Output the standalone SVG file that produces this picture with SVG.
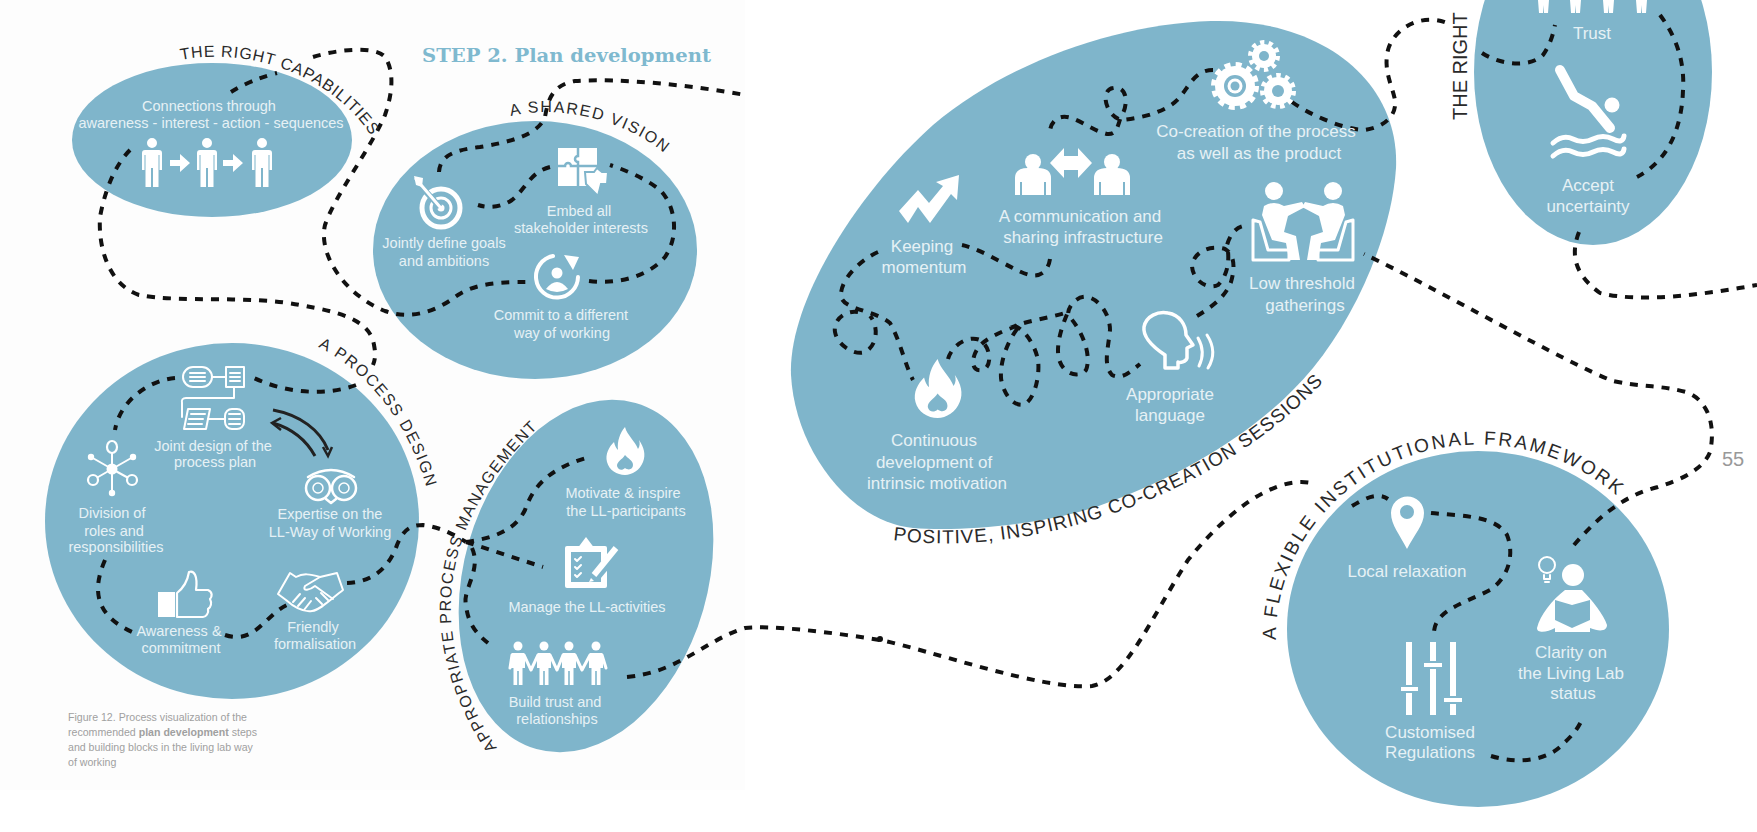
<svg xmlns="http://www.w3.org/2000/svg" xmlns:xlink="http://www.w3.org/1999/xlink" width="1757" height="832" viewBox="0 0 1757 832">
<style>
text{font-family:"Liberation Sans",Arial,sans-serif}
.b{fill:#7fb5cb}
.t{fill:#e6f1f5;font-size:14.5px;text-anchor:middle}
.m{fill:#e6f1f5;font-size:17px;text-anchor:middle}
.l{fill:#2a2a2a;font-size:16px}
.lm{fill:#2a2a2a;font-size:19px}
.c{fill:#a0a0a0;font-size:10.6px}
.w{fill:#fff}
.o{fill:none;stroke:#fff;stroke-width:3;stroke-linejoin:round;stroke-linecap:round}
.h{fill:none;stroke:#7fb5cb}
.d{fill:none;stroke:#111;stroke-width:4;stroke-dasharray:8 8}
</style>
<defs>
<path id="person" d="M0,0A5,5 0 1 1 0,10A5,5 0 1 1 0,0ZM-7,12H7Q10,12 10,15V32H7.5V17H6.5V49H1V30H-1V49H-6.5V17H-7.5V32H-10V15Q-10,12 -7,12Z"/>
<path id="arrow" d="M-10,-3H0V-9L10,0L0,9V3H-10Z"/>
<path id="flame" fill-rule="evenodd" d="M20,0C22,8 30,14 33,22C35,19 35,16 34,13C39,20 41,28 38,35C35,43 27,48 20,48C12,48 4,43 2,35C0,27 4,20 9,15C10,19 11,21 13,23C12,14 15,6 20,0ZM20,28C17,33 12,34 12,39C13,43 17,44 20,41C24,44 28,42 28,38C28,33 23,32 20,28Z"/>
<path id="bust" d="M-18,33V16Q-18,6 -5,6H5Q18,6 18,16V33H13V20H11V33H-11V20H-13V33Z"/>
<path id="fig" d="M-6,11H6L7,13V26H4.5V43H.8V29H-.8V43H-4.5V26H-7V13Z"/>
<path id="p1" d="M181,60C240,48 320,68 366,128L380,150"/>
<path id="p2" d="M511,116C560,104 630,120 672,160"/>
<path id="p3" d="M318,347C365,370 410,420 430,500"/>
<path id="p4" d="M497,748C432,650 425,530 546,420L565,403"/>
<path id="p5" d="M893,540C1040,560 1230,490 1332,372L1345,356"/>
<path id="p6" d="M1276,640A203,193 0 0 1 1640,520"/>
</defs>
<rect width="1757" height="832" fill="#fff"/>
<rect width="745" height="790" fill="#fdfdfd"/>

<g id="ellipses">
<ellipse class="b" cx="212" cy="140" rx="140" ry="77"/>
<ellipse class="b" cx="535" cy="250" rx="162" ry="129"/>
<ellipse class="b" cx="232" cy="521" rx="187" ry="178"/>
<ellipse class="b" cx="586" cy="576" rx="122" ry="180" transform="rotate(16 586 576)"/>
<path class="b" d="M1211,21C1320,18 1400,80 1396,168C1392,230 1360,310 1313,368C1270,420 1200,470 1096,507C1040,525 960,532 913,528C850,522 795,450 791,375C788,300 860,190 933,125C1010,60 1120,24 1211,21Z"/>
<ellipse class="b" cx="1478" cy="629" rx="191" ry="178"/>
<ellipse class="b" cx="1593" cy="72" rx="119" ry="173"/>
</g>

<text id="title" x="422" y="62" style="font-family:'DejaVu Serif',serif;font-weight:bold;font-size:19px;fill:#7fb9cf" textLength="289" lengthAdjust="spacingAndGlyphs">STEP 2. Plan development</text>

<g id="connectors">
<path class="d" d="M231,92Q250,80 277,73"/>
<path class="d" d="M313,57C335,50 375,45 385,57C395,72 392,95 385,115C370,150 335,195 325,225C318,255 345,295 385,311C410,320 435,312 455,297C475,282 505,282 526,282"/>
<path class="d" d="M589,281C620,285 650,275 665,257C680,235 675,205 660,190C645,178 625,170 610,165"/>
<path class="d" d="M550,167C530,172 525,190 512,200C500,208 488,208 478,205"/>
<path class="d" d="M439,172C440,155 455,150 480,147C510,142 538,135 545,117C548,100 552,85 575,81C620,78 690,85 745,95"/>
<path class="d" d="M130,150C115,165 105,190 100,217C98,250 110,285 139,295C180,303 250,295 300,305C340,312 370,320 374,345C376,355 375,360 373,365"/>
<path class="d" d="M356,385C330,395 290,395 254,378"/>
<path class="d" d="M175,378C150,380 120,400 115,430"/>
<path class="d" d="M105,560C92,590 95,615 132,632"/>
<path class="d" d="M225,635C255,645 265,615 287,605"/>
<path class="d" d="M347,583C375,582 390,565 397,545C403,530 410,525 423,525C440,527 455,535 466,542"/>
<path class="d" d="M466,542C495,538 515,530 525,510C532,490 545,470 586,458"/>
<path class="d" d="M466,542L543,567"/>
<path class="d" d="M472,548C482,570 462,590 466,605C468,625 478,635 488,643"/>
<path class="d" d="M627,677C680,672 705,640 745,628C770,625 830,632 880,640C930,650 1040,690 1092,686C1125,680 1150,620 1188,560C1220,520 1270,475 1311,483"/>
<circle cx="880" cy="639" r="3" fill="#111"/>
<path class="d" d="M1352,506C1365,498 1378,492 1388,499"/>
<path class="d" d="M1431,513C1460,516 1495,515 1507,535C1515,555 1508,578 1490,590C1465,603 1435,610 1434,632"/>
<path class="d" d="M1491,756C1520,765 1550,760 1565,742C1575,733 1580,725 1583,717"/>
<path class="d" d="M1574,545C1600,515 1625,495 1658,487C1680,480 1703,470 1710,452C1716,425 1708,400 1686,392C1660,385 1640,387 1613,381C1570,365 1430,285 1364,254"/>
<path class="d" d="M1292,102C1310,115 1345,130 1365,130C1385,127 1397,115 1395,100C1392,85 1383,70 1388,50C1393,30 1420,12 1447,23"/>
<path class="d" d="M1482,53C1500,65 1530,68 1543,55C1550,45 1553,35 1555,25"/>
<path class="d" d="M1660,15C1675,35 1685,60 1683,90C1682,125 1670,160 1637,177"/>
<path class="d" d="M1579,232C1570,255 1575,275 1600,293C1640,303 1700,295 1757,285"/>
<path class="d" d="M1213,70C1195,70 1190,85 1180,97C1170,110 1145,118 1121,120C1105,115 1100,90 1113,88C1128,85 1128,105 1122,115C1117,125 1118,135 1107,134C1090,130 1075,115 1062,117C1055,118 1050,125 1050,132"/>
<path class="d" d="M1050,259C1048,272 1040,277 1030,275C1015,272 985,250 962,245"/>
<path class="d" d="M878,252C860,260 840,280 841,296C843,310 875,310 890,323C900,340 905,365 913,380"/>
<path class="d" d="M858,312C845,310 833,320 835,332C838,348 860,358 868,350C878,342 878,325 870,316"/>
<path class="d" d="M948,359C952,345 968,335 980,340C992,348 992,368 982,370C972,372 970,360 978,348C985,338 1005,330 1020,325C1008,340 1000,360 1001,378C1003,395 1015,408 1025,404C1035,398 1040,375 1038,360C1035,345 1025,330 1015,326C1030,320 1050,318 1068,312C1060,330 1055,350 1060,362C1065,375 1080,378 1086,370C1092,355 1082,330 1068,315C1068,305 1078,295 1088,297C1100,300 1110,315 1110,330C1108,350 1103,365 1112,375C1122,380 1130,372 1140,364"/>
<path class="d" d="M1197,316C1210,308 1225,298 1231,282C1235,268 1235,255 1225,249C1212,245 1195,250 1192,265C1192,280 1207,290 1218,285C1228,275 1230,260 1227,245C1230,235 1235,228 1243,226"/>
</g>

<g id="node-capabilities">
<text class="l" letter-spacing="0.9"><textPath href="#p1">THE RIGHT CAPABILITIES</textPath></text>
<text class="t" x="209" y="111">Connections through</text>
<text class="t" x="211" y="128">awareness - interest - action - sequences</text>
<use href="#person" x="152" y="138" class="w"/><use href="#person" x="207" y="138" class="w"/><use href="#person" x="262" y="138" class="w"/>
<use href="#arrow" x="180" y="163" class="w"/><use href="#arrow" x="233" y="163" class="w"/>
</g>

<g id="node-vision">
<text class="l" letter-spacing="1.6"><textPath href="#p2">A SHARED VISION</textPath></text>
<g id="icon-target">
<circle cx="441" cy="208" r="19" class="o" style="stroke-width:5"/>
<circle cx="441" cy="208" r="10" class="o" style="stroke-width:3"/>
<circle cx="441" cy="208" r="3.5" class="w"/>
<path d="M418,183L440,207" class="h" style="stroke-width:6"/><path d="M416,179L440,207" class="o"/>
<path d="M414,176L423,178L422,187L416,185Z" class="w"/>
</g>
<g id="icon-puzzle"><rect x="558" y="148" width="39" height="38" class="w"/><path d="M578,148V156A3,3 0 0 0 578,162V186M558,166H565A3,3 0 0 1 571,166H597" class="h" style="stroke-width:2.5"/>
<path d="M585,172H594L597,168L602,172H608L607,184H601L598,196L586,184Z" class="w" stroke="#7fb5cb" stroke-width="2"/></g>
<g id="icon-commit"><path d="M553,256A21,21 0 1 0 578,277" class="o" style="stroke-width:4"/><path d="M564,255L579,257L573,270Z" class="w"/><circle cx="557" cy="273" r="5.5" class="w"/><path d="M546,289Q557,275 568,289Q557,295 546,289Z" class="w"/></g>
<text class="t" x="444" y="248">Jointly define goals</text><text class="t" x="444" y="266">and ambitions</text>
<text class="t" x="579" y="216">Embed all</text><text class="t" x="581" y="233">stakeholder interests</text>
<text class="t" x="561" y="320">Commit to a different</text><text class="t" x="562" y="338">way of working</text>
</g>

<g id="node-process">
<text class="l" letter-spacing="1.6"><textPath href="#p3">A PROCESS DESIGN</textPath></text>
<g id="icon-plan" class="o" style="stroke-width:2"><rect x="183" y="367" width="29" height="20" rx="10"/><rect x="226" y="367" width="18" height="20"/><path d="M212,377H226M190,373H205M190,377H205M190,381H205M230,373H240M230,377H240M230,381H240"/>
<path d="M234,387V398H186Q181,398 182,403V417"/><path d="M188,409H210L206,429H184Z"/><rect x="225" y="409" width="19" height="20" rx="7"/><path d="M208,419H225M191,414H205M189,419H203M188,424H202M229,414H240M229,419H240M229,424H240"/>
</g>
<g id="icon-swap" fill="none" stroke="#222" stroke-width="3">
<path d="M273,410C300,415 320,430 328,450"/><path d="M323,447L328,456L332,447" stroke-width="2.5"/>
<path d="M315,456C305,438 290,428 273,423"/><path d="M281,418L272,423L281,430" stroke-width="2.5"/>
</g>
<g id="icon-owl" class="o" style="stroke-width:2.5"><circle cx="318" cy="488" r="12"/><circle cx="344" cy="488" r="12"/><path d="M308,477Q331,463 354,477"/><circle cx="318" cy="488" r="5" style="stroke-width:1.5"/><circle cx="344" cy="488" r="5" style="stroke-width:1.5"/><path d="M326,499L331,503L336,499"/></g>
<g id="icon-network"><path d="M112,447V493M112,469L91,457M112,469L133,457M112,469L93,480M112,469L132,480" class="o" style="stroke-width:2"/>
<circle cx="112" cy="469" r="5.5" class="w"/>
<ellipse cx="112" cy="447" rx="5" ry="6" class="b" stroke="#fff" stroke-width="2.2"/><circle cx="91" cy="457" r="3.2" class="w"/><circle cx="133" cy="457" r="3.2" class="w"/><circle cx="93" cy="480" r="5" class="b" stroke="#fff" stroke-width="2.2"/><circle cx="132" cy="480" r="5" class="b" stroke="#fff" stroke-width="2.2"/><circle cx="112" cy="493" r="3.2" class="w"/></g>
<g id="icon-thumb"><rect x="158" y="592" width="17" height="25" class="w"/><path d="M177,593C186,586 188,578 189,572C194,570 198,576 196,590L208,590C213,592 212,597 210,599C212,603 211,607 208,609C209,613 206,617 203,617L177,617Z" class="o" style="stroke-width:2.2"/></g>
<g id="icon-hands" class="o" style="stroke-width:2"><path d="M290,573L278,594L286,600C295,608 305,612 312,611C320,610 330,600 343,590L337,573L320,577C310,574 303,573 296,577Z"/><path d="M320,577L305,586C302,592 310,590 315,586L333,599M293,602L300,594M298,606L305,598M304,610L311,601M322,604L316,598M328,600L321,593"/></g>
<text class="t" x="213" y="451">Joint design of the</text><text class="t" x="215" y="467">process plan</text>
<text class="t" x="330" y="519">Expertise on the</text><text class="t" x="330" y="537">LL-Way of Working</text>
<text class="t" x="112" y="518">Division of</text><text class="t" x="114" y="536">roles and</text><text class="t" x="116" y="552">responsibilities</text>
<text class="t" x="179" y="636">Awareness &amp;</text><text class="t" x="181" y="653">commitment</text>
<text class="t" x="313" y="632">Friendly</text><text class="t" x="315" y="649">formalisation</text>
</g>

<g id="node-management">
<text class="l" letter-spacing="1.4"><textPath href="#p4">APPROPRIATE PROCESS MANAGEMENT</textPath></text>
<use href="#flame" class="w" x="605" y="427"/>
<g id="icon-clipboard"><rect x="565" y="546" width="42" height="42" rx="2" class="w"/><rect x="571" y="552" width="30" height="30" class="b"/><path d="M577,549L586,537L595,549Z" class="w"/>
<path d="M575,559l2,2l4,-4M575,567l2,2l4,-4M575,575l2,2l4,-4" class="o" style="stroke-width:2"/>
<path d="M618,550L596,576" class="h" style="stroke-width:10"/><path d="M616,548L594,575" class="o" style="stroke-width:6;stroke-linecap:butt"/><path d="M591,578L589,582L594,581Z" class="w"/></g>
<g id="icon-team" class="w"><circle cx="518" cy="646" r="4.5"/><circle cx="544" cy="646" r="4.5"/><circle cx="569" cy="646" r="4.5"/><circle cx="596" cy="646" r="4.5"/>
<use href="#fig" x="518" y="642"/><use href="#fig" x="544" y="642"/><use href="#fig" x="569" y="642"/><use href="#fig" x="596" y="642"/>
<path d="M510,668L512,655M524,655L531,670L538,655M550,655L557,670L563,655M575,655L582,670L590,655M602,655L606,668" class="o"/></g>
<text class="t" x="623" y="498">Motivate &amp; inspire</text><text class="t" x="626" y="516">the LL-participants</text>
<text class="t" x="587" y="612">Manage the LL-activities</text>
<text class="t" x="555" y="707">Build trust and</text><text class="t" x="557" y="724">relationships</text>
</g>

<text id="caption" class="c"><tspan x="68" y="721">Figure 12. Process visualization of the</tspan><tspan x="68" y="736">recommended <tspan font-weight="bold">plan development</tspan> steps</tspan><tspan x="68" y="751">and building blocks in the living lab way</tspan><tspan x="68" y="766">of working</tspan></text>

<g id="node-cocreation">
<text class="lm" letter-spacing="1"><textPath href="#p5">POSITIVE, INSPIRING CO-CREATION SESSIONS</textPath></text>
<g id="icon-gears">
<circle cx="1235" cy="86" r="20" class="w"/><circle cx="1235" cy="86" r="21.5" fill="none" stroke="#fff" stroke-width="5" stroke-dasharray="6 5.26"/><circle cx="1235" cy="86" r="11" class="b"/><circle cx="1235" cy="86" r="7.5" class="w"/><circle cx="1235" cy="86" r="4.5" class="b"/>
<circle cx="1264" cy="56" r="12" class="w"/><circle cx="1264" cy="56" r="13.5" fill="none" stroke="#fff" stroke-width="5" stroke-dasharray="4.2 4.28"/><circle cx="1264" cy="56" r="5" class="b"/>
<circle cx="1278" cy="91" r="14" class="w"/><circle cx="1278" cy="91" r="15.5" fill="none" stroke="#fff" stroke-width="5" stroke-dasharray="4.5 4.35"/><circle cx="1278" cy="91" r="6" class="b"/>
</g>
<g id="icon-talk" class="w"><circle cx="1033" cy="162" r="8"/><use href="#bust" x="1033" y="162"/><circle cx="1112" cy="162" r="8"/><use href="#bust" x="1112" y="162"/><path d="M1050,163L1064,148V156H1078V148L1092,163L1078,178V170H1064V178Z"/></g>
<path id="icon-zig" class="w" d="M899,211L918,190L929,203L943,186L936,182L959,175L957,200L951,194L930,223L918,207L908,223Z"/>
<g id="icon-meeting"><circle cx="1274" cy="191" r="9" class="w"/><circle cx="1333" cy="191" r="9" class="w"/>
<path class="w" d="M1264,206Q1274,200 1284,206L1302,202L1305,207L1288,216L1284,232L1296,236L1300,260L1289,260L1286,243L1272,240L1262,215Z"/>
<path class="w" d="M1343,206Q1333,200 1323,206L1305,202L1302,207L1319,216L1323,232L1311,236L1307,260L1318,260L1321,243L1335,240L1345,215Z"/>
<path class="o" d="M1253,220V260H1289V250H1268L1260,222ZM1353,220V260H1318V250H1338L1346,222Z"/></g>
<use href="#flame" class="w" transform="translate(913 359) scale(1.23)"/>
<g id="icon-speak"><path class="o" style="stroke-width:3.5" d="M1165,368V355C1150,345 1143,335 1144,327C1146,316 1158,311 1168,313C1180,315 1186,325 1186,335L1193,345L1187,348V358C1186,362 1180,363 1178,362V368Z"/><path class="o" d="M1198,338Q1206,352 1199,366M1207,335Q1218,352 1208,368"/></g>
<text class="m" x="1256" y="137">Co-creation of the process</text><text class="m" x="1259" y="159">as well as the product</text>
<text class="m" x="1080" y="222">A communication and</text><text class="m" x="1083" y="243">sharing infrastructure</text>
<text class="m" x="922" y="252">Keeping</text><text class="m" x="924" y="273">momentum</text>
<text class="m" x="1302" y="289">Low threshold</text><text class="m" x="1305" y="311">gatherings</text>
<text class="m" x="1170" y="400">Appropriate</text><text class="m" x="1170" y="421">language</text>
<text class="m" x="934" y="446">Continuous</text><text class="m" x="934" y="468">development of</text><text class="m" x="937" y="489">intrinsic motivation</text>
</g>

<g id="node-framework">
<text class="lm" letter-spacing="2.4"><textPath href="#p6">A FLEXIBLE INSTITUTIONAL FRAMEWORK</textPath></text>
<path id="icon-pin" class="w" fill-rule="evenodd" d="M1407,549C1400,535 1391,525 1391,513A16,16 0 0 1 1424,513C1424,525 1414,535 1407,549ZM1407,505A7,7 0 1 0 1407,519A7,7 0 1 0 1407,505Z"/>
<g id="icon-reader"><circle cx="1573" cy="575" r="11" class="w"/><path class="w" d="M1537,628C1540,615 1552,600 1565,590H1582C1592,600 1604,615 1607,625C1607,631 1600,632 1590,628V632H1555V628C1548,632 1537,634 1537,628Z"/><path class="b" d="M1555,600L1572,605L1590,600V620L1572,628L1555,620Z"/>
<circle cx="1547" cy="565" r="8" class="o" style="stroke-width:2"/><path d="M1544,575V579H1550V575M1545,582H1549" class="o" style="stroke-width:2"/></g>
<g id="icon-sliders"><path d="M1409,642V715M1433,642V715M1453,642V715" fill="none" stroke="#fff" stroke-width="6"/>
<rect x="1400" y="686" width="19" height="6" class="w" stroke="#7fb5cb" stroke-width="2"/><rect x="1423" y="662" width="20" height="6" class="w" stroke="#7fb5cb" stroke-width="2"/><rect x="1443" y="697" width="20" height="6" class="w" stroke="#7fb5cb" stroke-width="2"/></g>
<text class="m" x="1407" y="577">Local relaxation</text>
<text class="m" x="1571" y="658">Clarity on</text><text class="m" x="1571" y="679">the Living Lab</text><text class="m" x="1573" y="699">status</text>
<text class="m" x="1430" y="738">Customised</text><text class="m" x="1430" y="758">Regulations</text>
</g>

<g id="node-attitude">
<text x="1467" y="120" transform="rotate(-90 1467 120)" style="font-size:20px;fill:#2a2a2a">THE RIGHT</text>
<path id="icon-legs" d="M1538,0L1539,13H1543L1543,5L1544,13H1548L1549,0ZM1570,0L1571,13H1575L1575,5L1576,13H1580L1581,0ZM1603,0L1604,13H1608L1608,5L1609,13H1613L1614,0ZM1636,0L1637,13H1641L1641,5L1642,13H1646L1647,0Z" class="w"/>
<g id="icon-diver"><path d="M1560,70L1574,96L1592,106L1610,128" fill="none" stroke="#fff" stroke-width="10" stroke-linecap="round" stroke-linejoin="round"/><circle cx="1612" cy="105" r="7.5" class="w"/>
<path d="M1553,143Q1563,134 1573,139T1593,139T1613,139T1624,136M1553,156Q1563,147 1573,152T1593,152T1613,152T1624,149" class="o" style="stroke-width:5"/></g>
<text class="m" x="1592" y="39">Trust</text>
<text class="m" x="1588" y="191">Accept</text><text class="m" x="1588" y="212">uncertainty</text>
</g>

<text id="page-number" x="1733" y="466" style="font-size:20px;fill:#999;text-anchor:middle">55</text>
</svg>
